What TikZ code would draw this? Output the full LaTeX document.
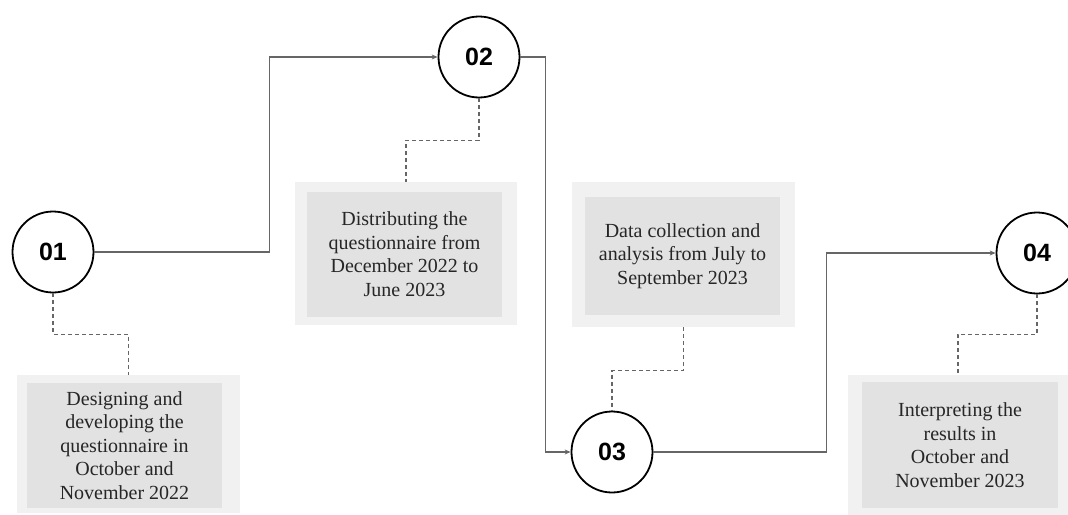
\documentclass[tikz,border=0pt]{standalone}
\usepackage{fontspec}
\setmainfont{Liberation Serif}
\newfontfamily\numfont{Liberation Sans}
\usetikzlibrary{arrows.meta}
\definecolor{outerbox}{HTML}{F1F1F1}
\definecolor{innerbox}{HTML}{E2E2E2}
\definecolor{flowgray}{HTML}{666666}
\tikzset{
  stepcircle/.style={circle, draw=black, line width=1.8pt, fill=white, minimum size=81pt, inner sep=0pt, font=\numfont\bfseries\fontsize{25}{28}\selectfont},
  outerpanel/.style={fill=outerbox, draw=none, inner sep=0pt},
  innerpanel/.style={fill=innerbox, draw=none, inner sep=0pt, align=center, text=black!85, font=\fontsize{20}{23.5}\selectfont},
  flow/.style={draw=flowgray, line width=1.3pt, -{Stealth[length=6pt,width=5pt]}},
  leader/.style={draw=flowgray, line width=1.1pt, dash pattern=on 4pt off 3pt}
}
\begin{document}
\begin{tikzpicture}[x=1pt,y=-1pt]
\useasboundingbox (0,0) rectangle (1068,514);
% panels
\node[outerpanel, minimum width=223pt, minimum height=138pt] (b1) at (128.5,444) {};
\node[innerpanel, minimum width=195pt, minimum height=125pt] (t1) at (124.5,445.5) {Designing and\\developing the\\questionnaire in\\October and\\November 2022};
\node[outerpanel, minimum width=222pt, minimum height=143pt] (b2) at (406,253.5) {};
\node[innerpanel, minimum width=195pt, minimum height=125pt] (t2) at (404.5,254) {Distributing the\\questionnaire from\\December 2022 to\\June 2023};
\node[outerpanel, minimum width=223pt, minimum height=145pt] (b3) at (683.5,254.5) {};
\node[innerpanel, minimum width=195pt, minimum height=118pt] (t3) at (682.5,256) {Data collection and\\analysis from July to\\September 2023};
\node[outerpanel, minimum width=220pt, minimum height=140pt] (b4) at (958,445) {};
\node[innerpanel, minimum width=196pt, minimum height=126pt] (t4) at (960,445) {Interpreting the\\results in\\October and\\November 2023};
% circles
\node[stepcircle] (c1) at (53,252) {01};
\node[stepcircle] (c2) at (479,57) {02};
\node[stepcircle] (c3) at (612,452) {03};
\node[stepcircle] (c4) at (1037,253) {04};
% flow connectors
\draw[flow] (c1.east) -- ++(175,0) |- (c2.west);
\draw[flow] (c2.east) -- ++(25,0) |- (c3.west);
\draw[flow] (c3.east) -- ++(173,0) |- (c4.west);
% dashed leaders
\draw[leader] (c1.south) -- ++(0,41) -| (b1.north);
\draw[leader] (c2.south) -- ++(0,42) -| (b2.north);
\draw[leader] (b3.south) -- ++(0,43) -| (c3.north);
\draw[leader] (c4.south) -- ++(0,40) -| (b4.north);
\end{tikzpicture}
\end{document}
